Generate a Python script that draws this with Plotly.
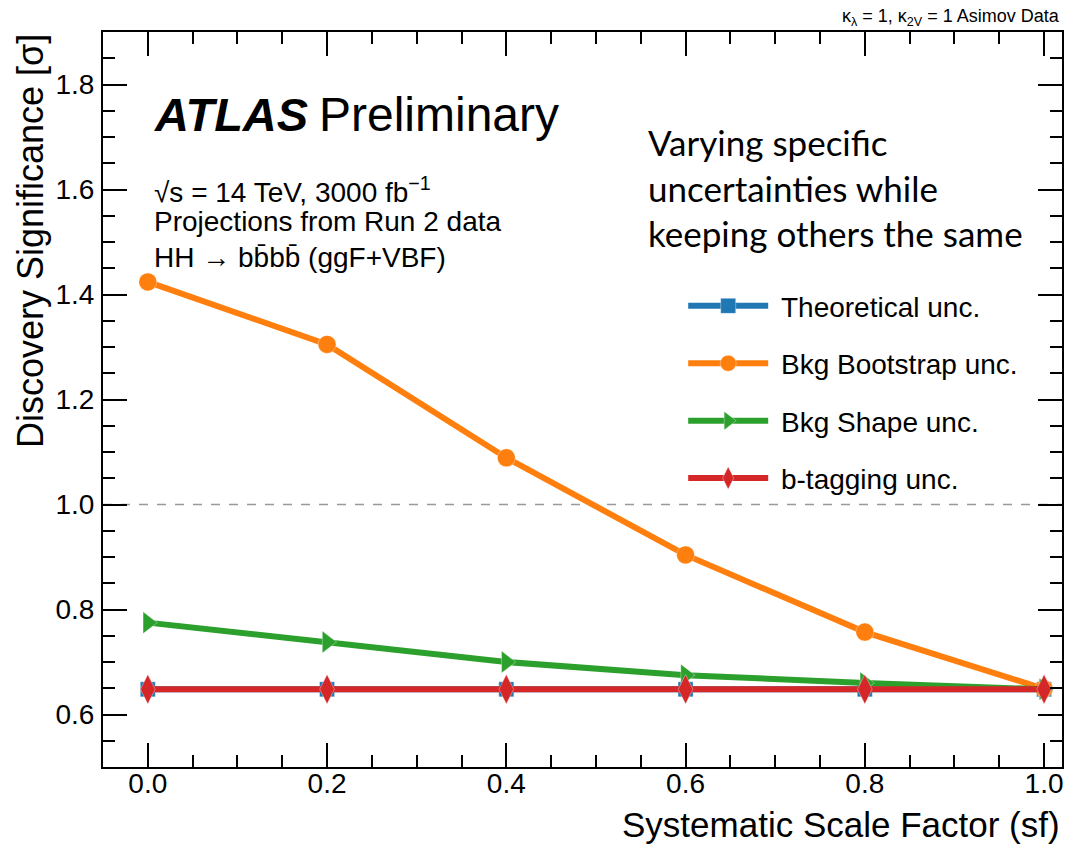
import plotly.graph_objects as go

sf = [0.0, 0.2, 0.4, 0.6, 0.8, 1.0]
theory = [0.648, 0.648, 0.648, 0.648, 0.648, 0.648]
bootstrap = [1.424, 1.305, 1.089, 0.904, 0.757, 0.649]
shape = [0.775, 0.738, 0.700, 0.675, 0.660, 0.648]
btag = [0.648, 0.648, 0.648, 0.648, 0.648, 0.648]

series = [
    ("Theoretical unc.", theory, "#1f77b4", "square", 15),
    ("Bkg Bootstrap unc.", bootstrap, "#ff7f0e", "circle", 18),
    ("Bkg Shape unc.", shape, "#2ca02c", "triangle-right", 19),
    ("b-tagging unc.", btag, "#d62728", "diamond-tall", 21),
]

fig = go.Figure()
for i, (name, vals, col, sym, ms) in enumerate(series):
    fig.add_trace(go.Scatter(
        x=sf, y=vals, name="\u00a0" + name, mode="lines+markers",
        line=dict(color=col, width=6),
        marker=dict(symbol=sym, size=ms, color=col,
                    line=dict(color="rgba(255,255,255,0.35)", width=1)),
        legendgroup=f"g{i}",
    ))

fig.add_shape(type="line", xref="paper", yref="y", x0=0, x1=1, y0=1.0, y1=1.0,
              line=dict(color="#999999", width=1.5, dash="dash"), layer="below")

helv = "Liberation Sans, Arial, sans-serif"
tickfont = dict(family=helv, size=28, color="black")
axis_common = dict(
    showgrid=False, zeroline=False, showline=True, linecolor="black", linewidth=2,
    mirror="allticks", ticks="inside", ticklen=24, tickwidth=1.5, tickcolor="black",
    dtick=0.2, tickformat=".1f", tickfont=tickfont,
    minor=dict(ticks="inside", ticklen=12, tickwidth=1.5, tickcolor="black", dtick=0.05, showgrid=False),
)
fig.update_xaxes(range=[-0.05, 1.02], tick0=0, ticklabelstandoff=-10, **axis_common)
fig.update_yaxes(range=[0.5, 1.9], tick0=0.6, ticklabelstandoff=1, **axis_common)

fig.update_layout(
    width=1066, height=844,
    margin=dict(l=103, r=2, t=32, b=77),
    plot_bgcolor="white", paper_bgcolor="white",
    showlegend=True,
    legend=dict(x=0.605, y=0.661, xanchor="left", yanchor="top",
                font=dict(family=helv, size=28, color="black"),
                itemwidth=80, tracegroupgap=18, bgcolor="rgba(0,0,0,0)"),
)

anns = [
    dict(text="Systematic Scale Factor (sf)", x=1.0, y=-0.078, xanchor="right", yanchor="middle",
         font=dict(family=helv, size=35)),
    dict(text="Discovery Significance [σ]", x=-0.076, y=1.0, xanchor="center", yanchor="top",
         textangle=-90, font=dict(family=helv, size=36)),
    dict(text="κ<sub>λ</sub> = 1, κ<sub>2V</sub> = 1 Asimov Data", x=1.0, y=1.0, xanchor="right",
         yanchor="bottom", yshift=1, font=dict(family=helv, size=18)),
    dict(text="<b><i>ATLAS</i></b>", x=0.051, y=0.888, xanchor="left", yanchor="middle",
         font=dict(family=helv, size=47)),
    dict(text="Preliminary", x=0.223, y=0.888, xanchor="left", yanchor="middle",
         font=dict(family=helv, size=48)),
    dict(text="√s = 14 TeV, 3000 fb<sup>−1</sup>", x=0.051, y=0.785, xanchor="left", yanchor="middle",
         font=dict(family=helv, size=28)),
    dict(text="Projections from Run 2 data", x=0.051, y=0.742, xanchor="left", yanchor="middle",
         font=dict(family=helv, size=28)),
    dict(text="HH → bb̄bb̄ (ggF+VBF)", x=0.051, y=0.693, xanchor="left", yanchor="middle",
         font=dict(family=helv, size=28)),
    dict(text="Varying specific<br>uncertainties while<br>keeping others the same", x=0.566, y=0.789,
         xanchor="left", yanchor="middle", align="left",
         font=dict(family="Lato, Open Sans, sans-serif", size=35)),
]
for a in anns:
    a.setdefault("xref", "paper")
    a.setdefault("yref", "paper")
    a.setdefault("showarrow", False)
    a["font"]["color"] = "black"
    fig.add_annotation(**a)

fig.write_html("out.html")
